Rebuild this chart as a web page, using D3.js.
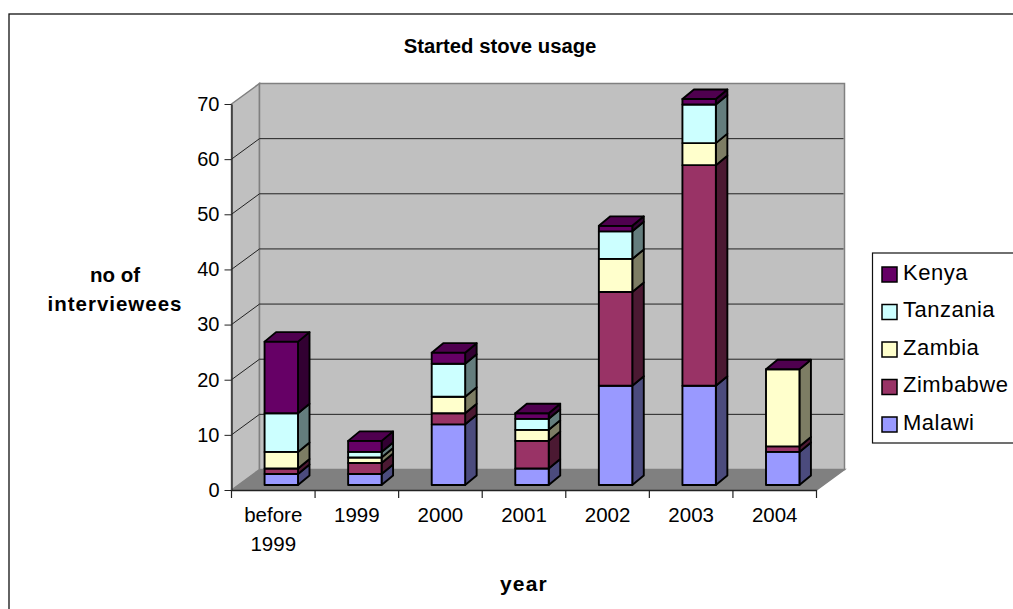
<!DOCTYPE html>
<html>
<head>
<meta charset="utf-8">
<script src="https://cdn.jsdelivr.net/npm/d3@7.9.0/dist/d3.min.js"></script>
<style>
  html, body { margin: 0; padding: 0; background: #fff; overflow: hidden; }
  svg { display: block; }
  text { font-family: "Liberation Sans", Arial, sans-serif; fill: #000; }
</style>
</head>
<body>
<svg id="chart" width="1013" height="609"></svg>
<script>
// Stove usage counts per year, one array per country
const years = ["before 1999", "1999", "2000", "2001", "2002", "2003", "2004"];
const malawi = [2, 2, 11, 3, 18, 18, 6];
const zimbabwe = [1, 2, 2, 5, 17, 40, 1];
const zambia = [3, 1, 3, 2, 6, 4, 14];
const tanzania = [7, 1, 6, 2, 5, 7, 0];
const kenya = [13, 2, 2, 1, 1, 1, 0];

const countries = ["Malawi", "Zimbabwe", "Zambia", "Tanzania", "Kenya"];
const countryValues = [malawi, zimbabwe, zambia, tanzania, kenya];
const colors = ["#9999ff", "#993366", "#ffffcc", "#ccffff", "#660066"];
const yTicks = [0, 10, 20, 30, 40, 50, 60, 70];

const svg = d3.select("#chart");

// Fake 3D: the back wall is the front plane pushed by wallDx, wallDy
const wallDx = 28, wallDy = 20.5;
const barInsetX = 8, barInsetY = 5;
const barDx = 11.5, barDy = 9.5;

const y = d3.scaleLinear().domain([0, 70]).range([490, 104]);
const x = d3.scaleBand().domain(years).range([231.5, 816.5])
  .paddingInner(0.6).paddingOuter(0.3);

const x0 = x.range()[0], x1 = x.range()[1];
const y0 = y(0), yTop = y(70);

// Outer chart frame, runs off the right and bottom edges
svg.append("rect")
  .attr("x", 9).attr("y", 14).attr("width", 1100).attr("height", 700)
  .attr("fill", "#fff").attr("stroke", "#111").attr("stroke-width", 1.3);

const poly = (pts) => pts.map((p) => p.join(",")).join(" ");

// Walls and floor
const walls = svg.append("g").attr("stroke", "#808080").attr("stroke-width", 1.5);
walls.append("polygon")
  .attr("points", poly([[x0, y0], [x0 + wallDx, y0 - wallDy], [x1 + wallDx, y0 - wallDy], [x1, y0]]))
  .attr("fill", "#808080");
walls.append("polygon")
  .attr("points", poly([[x0, yTop], [x0 + wallDx, yTop - wallDy], [x0 + wallDx, y0 - wallDy], [x0, y0]]))
  .attr("fill", "#c0c0c0");
walls.append("polygon")
  .attr("points", poly([[x0 + wallDx, yTop - wallDy], [x1 + wallDx, yTop - wallDy], [x1 + wallDx, y0 - wallDy], [x0 + wallDx, y0 - wallDy]]))
  .attr("fill", "#c0c0c0");

// Gridlines bend from the side wall onto the back wall
const grid = yTicks.filter((d) => d > 0 && d < 70);
svg.append("g").selectAll("polyline")
  .data(grid)
  .join("polyline")
  .attr("points", (d) => poly([[x0, y(d)], [x0 + wallDx, y(d) - wallDy], [x1 + wallDx - 1, y(d) - wallDy]]))
  .attr("fill", "none")
  .attr("stroke", "#222")
  .attr("stroke-width", 1);

// Stacked bars
const table = years.map((year, i) => {
  const row = { year };
  countries.forEach((c, k) => { row[c] = countryValues[k][i]; });
  return row;
});
const series = d3.stack().keys(countries)(table);
const barW = x.bandwidth();

const bars = svg.append("g")
  .attr("stroke", "#000")
  .attr("stroke-width", 1.9)
  .attr("stroke-linejoin", "round");

years.forEach((year, i) => {
  const left = x(year) + barInsetX;
  const right = left + barW;
  const g = bars.append("g");
  series.forEach((s, k) => {
    const [a, b] = s[i];
    if (a === b) return;
    const color = d3.color(colors[k]);
    const bottom = y(a) - barInsetY;
    const top = y(b) - barInsetY;
    g.append("polygon")
      .attr("points", poly([[right, bottom], [right + barDx, bottom - barDy], [right + barDx, top - barDy], [right, top]]))
      .attr("fill", color.darker(2));
    g.append("rect")
      .attr("x", left).attr("y", top)
      .attr("width", barW).attr("height", bottom - top)
      .attr("fill", colors[k]);
  });
  // Cap takes the colour of the last series, even when its value is zero
  const total = series[series.length - 1][i][1];
  const capY = y(total) - barInsetY;
  g.append("polygon")
    .attr("points", poly([[left, capY], [left + barDx, capY - barDy], [right + barDx, capY - barDy], [right, capY]]))
    .attr("fill", d3.color(colors[4]).darker(0.7));
});

// Axes
const yAxis = d3.axisLeft(y).tickValues(yTicks).tickSize(7).tickSizeOuter(0).tickPadding(5);
const yG = svg.append("g").attr("transform", `translate(${x0},0)`).call(yAxis);
yG.selectAll("text").attr("font-size", 20);
yG.select(".domain").attr("stroke", "#222").attr("stroke-width", 1.3);
yG.selectAll("line").attr("stroke", "#222");

const xAxis = d3.axisBottom(x).tickValues([]).tickSize(0).tickSizeOuter(0);
const xG = svg.append("g").attr("transform", `translate(0,${y0})`).call(xAxis);
xG.select(".domain").attr("stroke", "#222").attr("stroke-width", 1.3);

// Category separators sit between the bands
const step = x.step();
svg.append("g").selectAll("line")
  .data(d3.range(years.length + 1))
  .join("line")
  .attr("x1", (i) => x0 + i * step).attr("x2", (i) => x0 + i * step)
  .attr("y1", y0).attr("y2", y0 + 8)
  .attr("stroke", "#222").attr("stroke-width", 1.2);

const catLabels = svg.append("g").attr("text-anchor", "middle").attr("font-size", 20.5);
years.forEach((year) => {
  const cx = x(year) + barW / 2;
  const words = year.includes(" ") ? year.split(" ") : [year];
  words.forEach((w, j) => {
    catLabels.append("text").attr("x", cx).attr("y", 522 + j * 29).text(w);
  });
});

// Titles
svg.append("text").attr("x", 500).attr("y", 53)
  .attr("text-anchor", "middle").attr("font-size", 20.3).attr("font-weight", "bold")
  .text("Started stove usage");
svg.append("text").attr("x", 524).attr("y", 591)
  .attr("text-anchor", "middle").attr("font-size", 21).attr("font-weight", "bold")
  .attr("letter-spacing", 1.2)
  .text("year");
const yTitle = svg.append("text").attr("text-anchor", "middle")
  .attr("font-size", 20.5).attr("font-weight", "bold");
yTitle.append("tspan").attr("x", 115).attr("y", 282).text("no of");
yTitle.append("tspan").attr("x", 115).attr("y", 311).attr("letter-spacing", 1).text("interviewees");

// Legend, listed top-down from the last series
const legend = svg.append("g");
legend.append("rect")
  .attr("x", 872.5).attr("y", 253).attr("width", 200).attr("height", 190)
  .attr("fill", "#fff").attr("stroke", "#111").attr("stroke-width", 1.2);

const legendY = d3.scalePoint().domain(countries.slice().reverse()).range([274.5, 424.5]);
const items = legend.selectAll("g")
  .data(countries.slice().reverse())
  .join("g")
  .attr("transform", (d) => `translate(882,${legendY(d)})`);
items.append("rect")
  .attr("x", 0).attr("y", -7.5).attr("width", 15).attr("height", 15)
  .attr("fill", (d) => colors[countries.indexOf(d)])
  .attr("stroke", "#000").attr("stroke-width", 1.5);
items.append("text")
  .attr("x", 21).attr("y", 5)
  .attr("font-size", 22)
  .attr("letter-spacing", 0.5)
  .text((d) => d);
</script>
</body>
</html>
